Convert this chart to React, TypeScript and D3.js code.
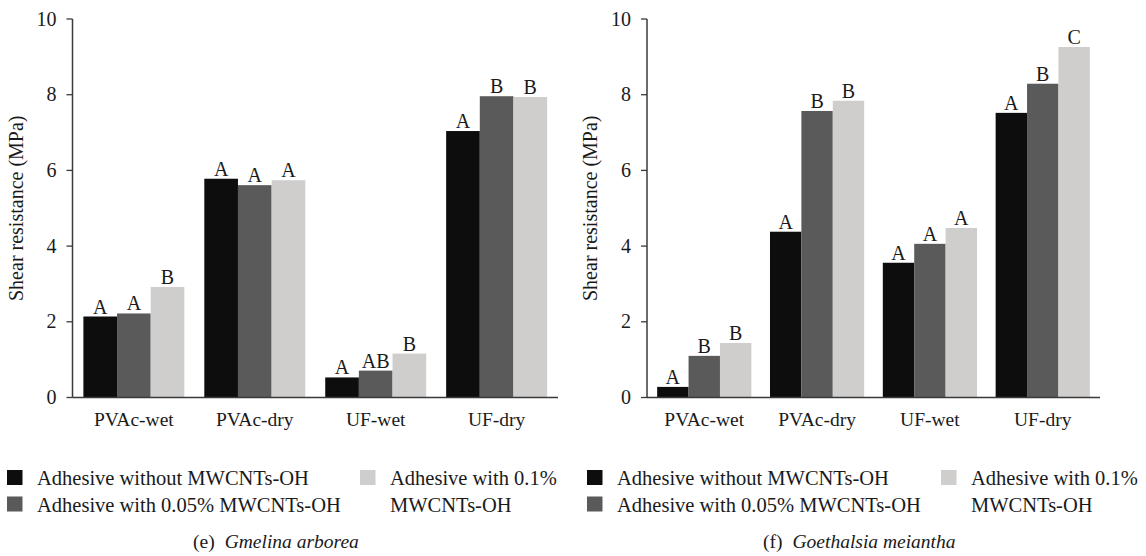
import React from 'react';
import * as d3 from 'd3';

const categories = ['PVAc-wet', 'PVAc-dry', 'UF-wet', 'UF-dry'];
const seriesNames = [
  'Adhesive without MWCNTs-OH',
  'Adhesive with 0.05% MWCNTs-OH',
  'Adhesive with 0.1% MWCNTs-OH',
];
const seriesColors = ['#0d0d0d', '#5a5a5a', '#cfcecd'];
const yTicks = [0, 2, 4, 6, 8, 10];

// (e) Gmelina arborea
const gmelinaValues = [
  [2.14, 5.78, 0.53, 7.04],
  [2.22, 5.61, 0.71, 7.96],
  [2.92, 5.74, 1.16, 7.94],
];
const gmelinaLetters = [
  ['A', 'A', 'A', 'A'],
  ['A', 'A', 'AB', 'B'],
  ['B', 'A', 'B', 'B'],
];

// (f) Goethalsia meiantha
const goethalsiaValues = [
  [0.28, 4.38, 3.56, 7.52],
  [1.1, 7.57, 4.06, 8.29],
  [1.44, 7.84, 4.48, 9.26],
];
const goethalsiaLetters = [
  ['A', 'A', 'A', 'A'],
  ['B', 'B', 'A', 'B'],
  ['B', 'B', 'A', 'C'],
];

const AXIS = '#3a3a3a';
const serif = (size: number, italic = false): React.CSSProperties => ({
  fontFamily: 'Liberation Serif',
  fontSize: size,
  fontStyle: italic ? 'italic' : 'normal',
});

type PanelProps = {
  values: number[][];
  letters: string[][];
  axisX: number;
  plotRight: number;
  legendX: number;
  legendX2: number;
  captionX: number;
  tag: string;
  species: string;
};

const Panel = ({ values, letters, axisX, plotRight, legendX, legendX2, captionX, tag, species }: PanelProps) => {
  const top = 19;
  const bottom = 397.5;

  const y = d3.scaleLinear().domain([0, 10]).range([bottom, top]);
  const x0 = d3.scaleBand<string>()
    .domain(categories)
    .range([axisX, plotRight])
    .paddingInner(0.165)
    .paddingOuter(0.09);
  const x1 = d3.scaleBand<number>()
    .domain(d3.range(seriesNames.length))
    .range([0, x0.bandwidth()]);

  const midY = (top + bottom) / 2;

  return (
    <g fill="#1a1a1a">
      {/* bars */}
      {categories.map((c, ci) => (
        <g key={c} transform={`translate(${x0(c)},0)`}>
          {seriesNames.map((s, si) => {
            const v = values[si][ci];
            const bx = x1(si) as number;
            return (
              <g key={s}>
                <rect
                  x={bx}
                  y={y(v)}
                  width={x1.bandwidth()}
                  height={y(0) - y(v)}
                  fill={seriesColors[si]}
                />
                <text
                  x={bx + x1.bandwidth() / 2}
                  y={y(v) - 3}
                  textAnchor="middle"
                  style={serif(20)}
                >
                  {letters[si][ci]}
                </text>
              </g>
            );
          })}
          <text x={x0.bandwidth() / 2} y={426} textAnchor="middle" style={serif(19.5)}>
            {c}
          </text>
        </g>
      ))}

      {/* axes */}
      <line x1={axisX} x2={axisX} y1={top} y2={bottom} stroke={AXIS} strokeWidth={1.5} />
      <line x1={axisX} x2={plotRight} y1={bottom} y2={bottom} stroke={AXIS} strokeWidth={1.5} />
      {yTicks.map((t) => (
        <g key={t}>
          <line x1={axisX - 6} x2={axisX} y1={y(t)} y2={y(t)} stroke={AXIS} strokeWidth={1.3} />
          <text x={axisX - 16} y={y(t) + 6.5} textAnchor="end" style={serif(20)}>
            {t}
          </text>
        </g>
      ))}
      <text
        transform={`translate(${axisX - 50},${midY}) rotate(-90)`}
        textAnchor="middle"
        style={serif(20)}
      >
        Shear resistance (MPa)
      </text>

      {/* legend */}
      <rect x={legendX} y={470} width={15.5} height={15} fill={seriesColors[0]} />
      <text x={legendX + 30} y={485} style={serif(20.5)}>{seriesNames[0]}</text>
      <rect x={legendX} y={496.5} width={15.5} height={15} fill={seriesColors[1]} />
      <text x={legendX + 30} y={511.5} style={serif(20.5)}>{seriesNames[1]}</text>
      <rect x={legendX2} y={470} width={15.5} height={15} fill={seriesColors[2]} />
      <text x={legendX2 + 30} y={485} style={serif(20.5)}>Adhesive with 0.1%</text>
      <text x={legendX2 + 30} y={511.5} style={serif(20.5)}>MWCNTs-OH</text>

      {/* caption */}
      <text x={captionX} y={548} style={serif(19.5)}>
        <tspan>({tag})</tspan>
        <tspan dx={10} style={serif(19.5, true)}>{species}</tspan>
      </text>
    </g>
  );
};

export default function App() {
  return (
    <svg
      width={1146}
      height={556}
      viewBox="0 0 1146 556"
      style={{ position: 'absolute', left: 0, top: 0, background: '#fff' }}
    >
      <rect width={1146} height={556} fill="#fff" />
      <Panel
        values={gmelinaValues}
        letters={gmelinaLetters}
        axisX={72.5}
        plotRight={558}
        legendX={7}
        legendX2={360}
        captionX={193}
        tag="e"
        species="Gmelina arborea"
      />
      <Panel
        values={goethalsiaValues}
        letters={goethalsiaLetters}
        axisX={647}
        plotRight={1100}
        legendX={587}
        legendX2={941}
        captionX={763}
        tag="f"
        species="Goethalsia meiantha"
      />
    </svg>
  );
}
